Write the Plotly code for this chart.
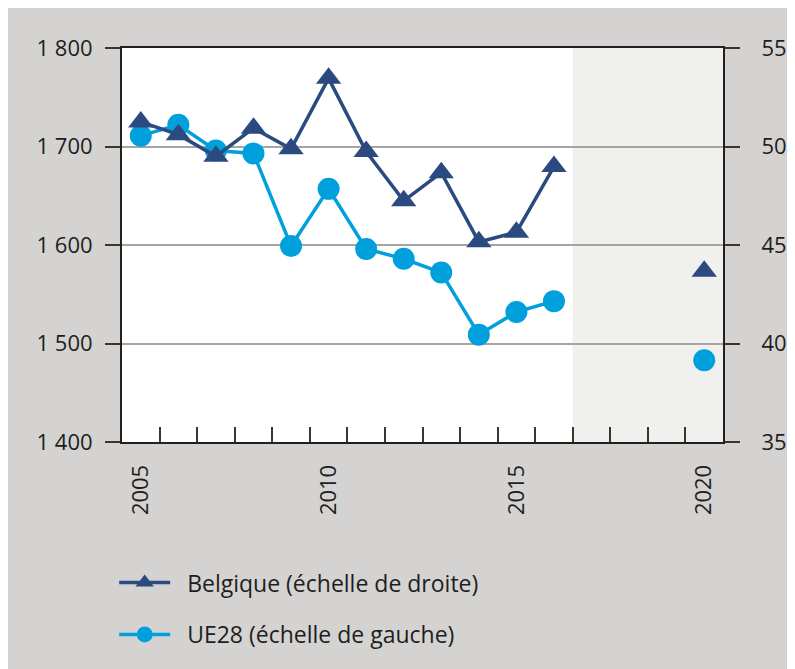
import plotly.graph_objects as go

years = list(range(2005, 2021))
belgique = [51.25, 50.6, 49.5, 50.93, 49.88, 53.46, 49.74, 47.24, 48.67, 45.16, 45.65, 48.98,
            None, None, None, 43.67]
ue28 = [1711, 1722, 1696, 1693, 1599, 1657, 1596, 1586, 1572, 1509, 1532, 1543,
        None, None, None, 1483]
left_tickvals = [1400, 1500, 1600, 1700, 1800]
left_ticktext = ["1 400", "1 500", "1 600", "1 700", "1 800"]
right_tickvals = [35, 40, 45, 50, 55]
x_label_years = [2005, 2010, 2015, 2020]
forecast_start, forecast_end = 2016.5, 2020.5
name_be = "Belgique (échelle de droite)"
name_eu = "UE28 (échelle de gauche)"

NAVY = "#2b4a7f"
CYAN = "#00a0dd"
BG = "#d4d3d1"
TXT = "#1e1e1e"
AX = "#231f20"
TICKC = "#3b3728"
FONT = "Open Sans, Noto Sans, sans-serif"
PAD = "\u00a0\u00a0"

fig = go.Figure()
fig.add_trace(go.Scatter(
    x=years, y=ue28, name=PAD + name_eu, mode="lines+markers",
    line=dict(color=CYAN, width=3.5), marker=dict(symbol="circle", size=22, color=CYAN),
    connectgaps=False, yaxis="y", legend="legend2"))
fig.add_trace(go.Scatter(
    x=years, y=belgique, name=PAD + name_be, mode="lines+markers",
    line=dict(color=NAVY, width=3.5), marker=dict(symbol="triangle-up", size=22, color=NAVY),
    connectgaps=False, yaxis="y2", legend="legend"))

# forecast shading
fig.add_shape(type="rect", xref="x", yref="paper", x0=forecast_start, x1=forecast_end,
              y0=0, y1=1, fillcolor="#f0f0ef", line=dict(width=0), layer="below")

fig.update_layout(
    width=787, height=661,
    margin=dict(l=114, r=72, t=40, b=227),
    paper_bgcolor=BG, plot_bgcolor="white",
    font=dict(family=FONT, size=22, color=TXT),
    xaxis=dict(range=[2004.5, 2020.5], tickvals=x_label_years,
               ticktext=[str(v) for v in x_label_years], tickangle=-90,
               ticks="", ticklabelstandoff=12, showgrid=False, automargin=False,
               showline=True, linecolor=AX, linewidth=2, mirror=True,
               minor=dict(tickvals=[y + 0.5 for y in years[:-1]], ticks="inside",
                          ticklen=15, tickwidth=1.5, tickcolor=TICKC, showgrid=False),
               tickfont=dict(size=22, color=TXT), zeroline=False),
    yaxis=dict(range=[1400, 1800], tickvals=left_tickvals, ticktext=left_ticktext,
               ticks="outside", ticklen=15, tickwidth=1.5, tickcolor=TICKC,
               ticklabelstandoff=8, automargin=False,
               showgrid=True, gridcolor="#a6a5a3", gridwidth=1.5,
               showline=True, linecolor=AX, linewidth=2, zeroline=False,
               tickfont=dict(size=22, color=TXT)),
    yaxis2=dict(range=[35, 55], tickvals=right_tickvals, overlaying="y", side="right",
                ticks="outside", ticklen=15, tickwidth=1.5, tickcolor=TICKC,
                ticklabelstandoff=17, showgrid=False, automargin=False,
                showline=True, linecolor=AX, linewidth=2, zeroline=False,
                tickfont=dict(size=22, color=TXT)),
    legend=dict(x=-0.013, y=-0.357, xanchor="left", yanchor="middle",
                bgcolor="rgba(0,0,0,0)", font=dict(size=23, color=TXT), itemwidth=51),
    legend2=dict(x=-0.013, y=-0.4885, xanchor="left", yanchor="middle",
                 bgcolor="rgba(0,0,0,0)", font=dict(size=23, color=TXT), itemwidth=51),
    showlegend=True,
)

fig.write_html("out.html")
